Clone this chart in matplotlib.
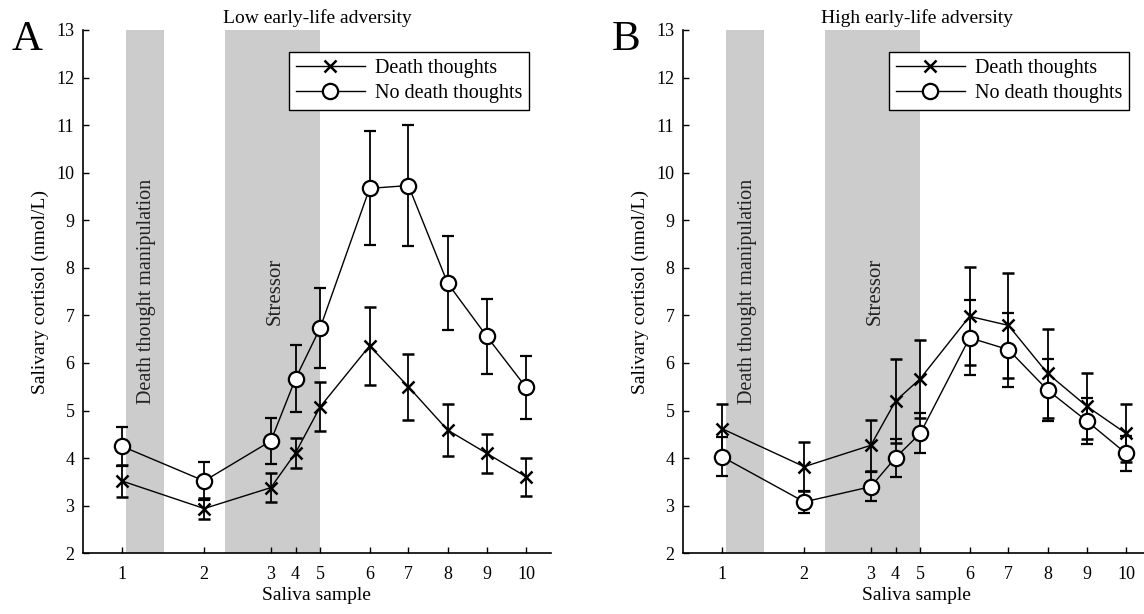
import matplotlib
matplotlib.use('Agg')
import matplotlib.pyplot as plt

plt.rcParams['font.family'] = ['Liberation Serif', 'DejaVu Serif']

# sample times (minutes from first sample), shown as sample numbers 1..10
times = [0, 21, 38, 44.3, 50.6, 63.2, 73.1, 83.1, 93.1, 103.1]
samples = ['1', '2', '3', '4', '5', '6', '7', '8', '9', '10']
manip_span = (1.0, 10.8)
stress_span = (26.4, 50.6)

# panel A: low early-life adversity
low_death = [3.52, 2.94, 3.38, 4.11, 5.08, 6.36, 5.50, 4.59, 4.10, 3.61]
low_death_se = [0.33, 0.23, 0.31, 0.32, 0.51, 0.82, 0.69, 0.55, 0.41, 0.40]
low_nodeath = [4.25, 3.52, 4.36, 5.67, 6.74, 9.67, 9.73, 7.68, 6.56, 5.49]
low_nodeath_se = [0.41, 0.40, 0.48, 0.70, 0.84, 1.20, 1.28, 0.99, 0.79, 0.66]

# panel B: high early-life adversity
high_death = [4.62, 3.82, 4.27, 5.20, 5.67, 6.98, 6.79, 5.78, 5.09, 4.52]
high_death_se = [0.51, 0.52, 0.54, 0.89, 0.82, 1.03, 1.11, 0.93, 0.69, 0.61]
high_nodeath = [4.03, 3.08, 3.40, 4.01, 4.52, 6.53, 6.28, 5.43, 4.78, 4.10]
high_nodeath_se = [0.41, 0.23, 0.31, 0.40, 0.42, 0.79, 0.78, 0.66, 0.48, 0.37]

fig = plt.figure(figsize=(11.44, 6.14), dpi=100)


def panel(left, letter, title, death, death_se, nodeath, nodeath_se):
    ax = fig.add_axes([left, 0.0989, 0.4094, 0.8523])
    ax.axvspan(*manip_span, color='#cccccc', lw=0, zorder=0)
    ax.axvspan(*stress_span, color='#cccccc', lw=0, zorder=0)
    ax.text(6.4, 7.5, 'Death thought manipulation', rotation=90,
            ha='center', va='center', fontsize=14.5, color='#222222')
    ax.text(39.1, 7.5, 'Stressor', rotation=90,
            ha='center', va='center', fontsize=15, color='#222222')

    ax.errorbar(times, death, yerr=death_se, color='black', lw=1,
                marker='x', ms=8, mew=1.8, elinewidth=1.3, capsize=4.5,
                capthick=1.8, zorder=3, label='Death thoughts')
    ax.errorbar(times, nodeath, yerr=nodeath_se, color='black', lw=1,
                marker='o', ms=11, mfc='white', mec='black', mew=1.6,
                elinewidth=1.3, capsize=4.5, capthick=1.8, zorder=4,
                label='No death thoughts')

    ax.set_xlim(-10, 109.5)
    ax.set_ylim(2, 13)
    ax.set_xticks(times)
    ax.set_xticklabels(samples)
    ax.set_yticks(range(2, 14))
    ax.tick_params(axis='both', direction='in', length=4, width=1,
                   labelsize=13)
    ax.tick_params(axis='x', pad=9)
    ax.tick_params(axis='y', pad=6)
    for s in ['top', 'right']:
        ax.spines[s].set_visible(False)
    for s in ['left', 'bottom']:
        ax.spines[s].set_linewidth(1.2)
    ax.set_xlabel('Saliva sample', fontsize=14, labelpad=3)
    ax.set_ylabel('Salivary cortisol (nmol/L)', fontsize=14, labelpad=5)
    ax.set_title(title, fontsize=14, pad=5)

    handles, labels = ax.get_legend_handles_labels()
    handles = [h[0] for h in handles]
    leg = ax.legend(handles, labels, loc='upper right',
                    bbox_to_anchor=(0.953, 0.958), borderaxespad=0,
                    fontsize=14.5, fancybox=False, framealpha=1,
                    edgecolor='black', handlelength=3.4, labelspacing=0.3,
                    borderpad=0.35, handletextpad=0.5)
    leg.get_frame().set_linewidth(1)
    fig.text(left - 0.062, 0.935, letter, fontsize=31, ha='left', va='center')
    return ax


panel(0.0723, 'A', 'Low early-life adversity',
      low_death, low_death_se, low_nodeath, low_nodeath_se)
panel(0.5968, 'B', 'High early-life adversity',
      high_death, high_death_se, high_nodeath, high_nodeath_se)

plt.savefig('out.png', dpi=100)
